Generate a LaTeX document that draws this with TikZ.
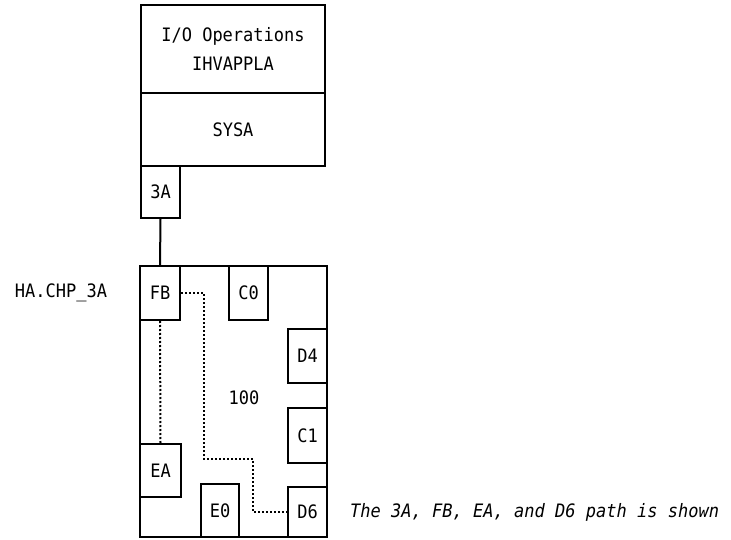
\documentclass[tikz,border=0pt]{standalone}
\usepackage{fontspec}
\setmainfont{DejaVu Sans Mono}[FakeStretch=0.92]
\begin{document}
\begin{tikzpicture}[x=1pt,y=-1pt,
  box/.style={draw,line width=2pt,inner sep=0pt,font=\fontsize{18.5}{29}\selectfont,align=center},
  lbl/.style={inner sep=0pt,font=\fontsize{18.5}{29}\selectfont},
  path/.style={line width=2pt,dash pattern=on 2pt off 2pt},
  link/.style={line width=2pt}]
\useasboundingbox (0,0) rectangle (731,540);
\node[box,minimum width=184pt,minimum height=88pt] (ioop) at (233,49) {I/O Operations\\IHVAPPLA};
\node[box,minimum width=184pt,minimum height=73pt] (sysa) at (233,129.5) {SYSA};
\node[box,minimum width=39pt,minimum height=52pt] (n3a) at (160.5,192) {3A};
\node[box,minimum width=187pt,minimum height=271pt] (big) at (233.5,401.5) {};
\node[lbl] (hundred) at (244,398) {100};
\node[box,fill=white,minimum width=40pt,minimum height=54pt] (fb) at (160,293) {FB};
\node[box,fill=white,minimum width=39pt,minimum height=54pt] (c0) at (248.5,293) {C0};
\node[box,fill=white,minimum width=39pt,minimum height=54pt] (d4) at (307.5,356) {D4};
\node[box,fill=white,minimum width=39pt,minimum height=55pt] (c1) at (307.5,435.5) {C1};
\node[box,fill=white,minimum width=41pt,minimum height=53pt] (ea) at (160.5,470.5) {EA};
\node[box,fill=white,minimum width=38pt,minimum height=53pt] (e0) at (220,510.5) {E0};
\node[box,fill=white,minimum width=39pt,minimum height=50pt] (d6) at (307.5,512) {D6};
\node[lbl] (ha) at (61,293) {HA.CHP\_3A};
\node[lbl,anchor=west] (note) at (350,512) {\itshape The 3A, FB, EA, and D6 path is shown};
\coordinate (b1) at (204,293);
\coordinate (b2) at (204,459);
\coordinate (b3) at (253,459);
\coordinate (b4) at (253,512);
\draw[link] (n3a.south) -- (fb.north);
\draw[path] (fb.south) -- (ea.north);
\draw[path] (fb.east) -- (b1) -- (b2) -- (b3) -- (b4) -- (d6.west);
\end{tikzpicture}
\end{document}
